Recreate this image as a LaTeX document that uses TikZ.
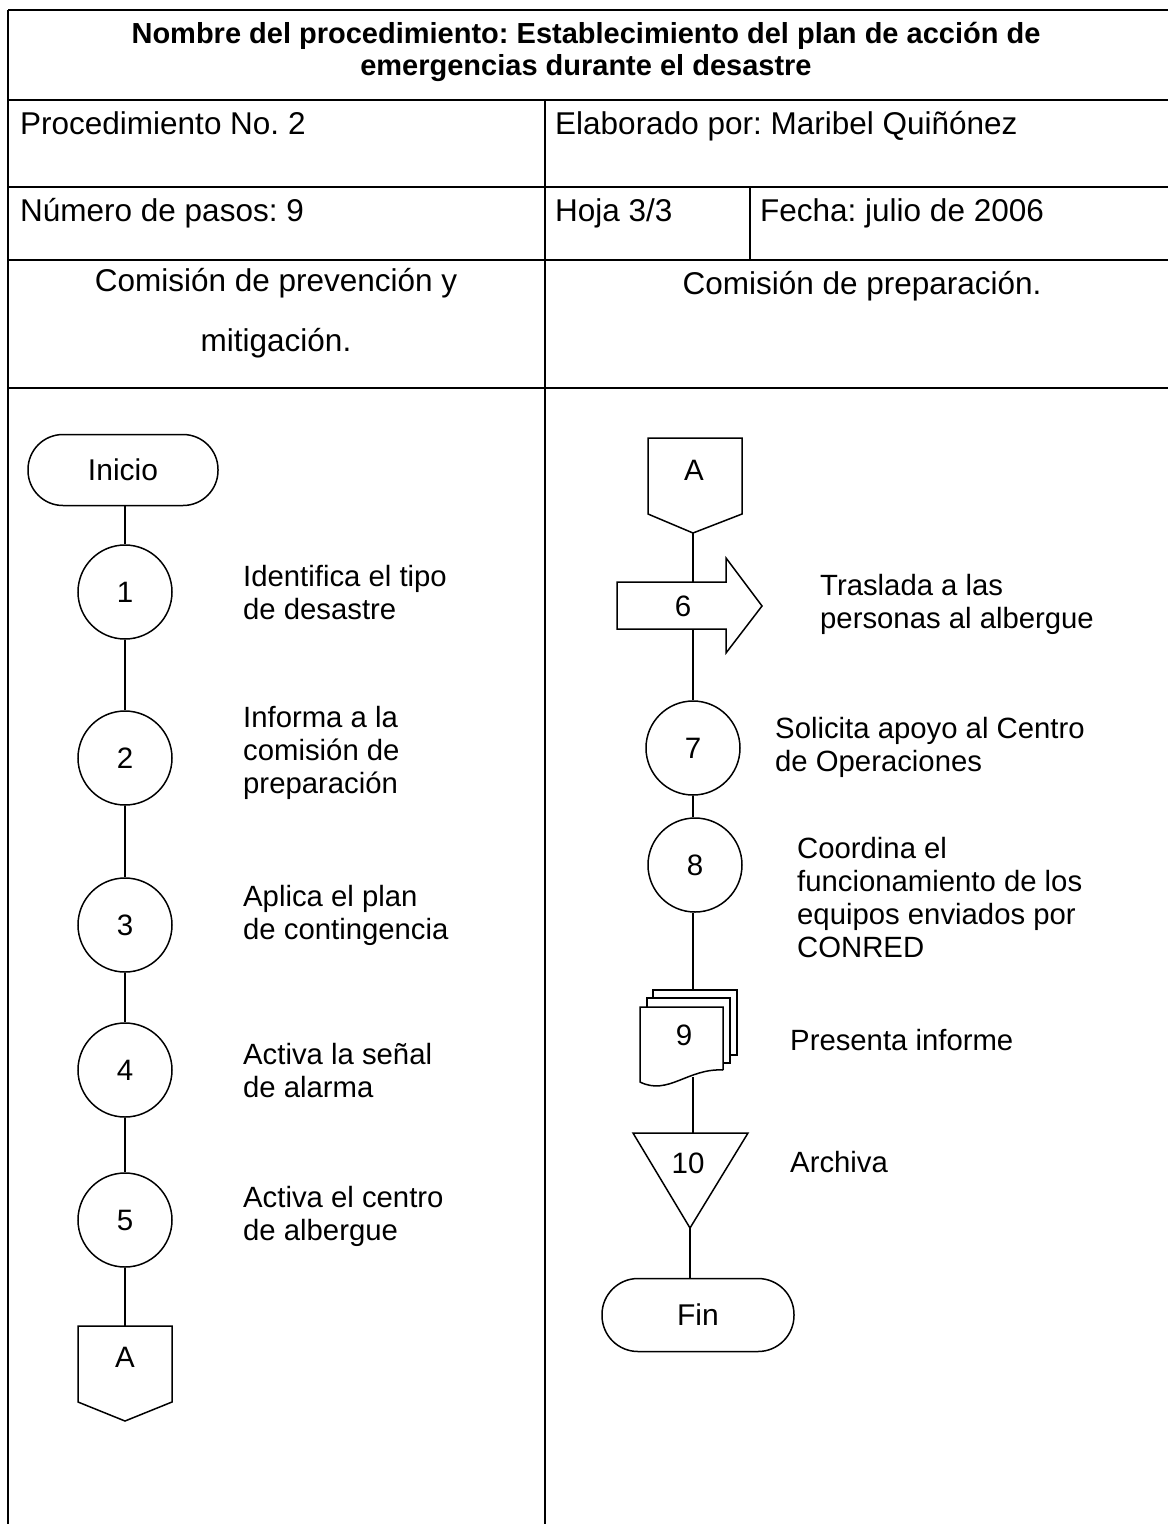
\documentclass[tikz,border=0pt]{standalone}
\usepackage{fontspec}
\setmainfont{Liberation Sans}
\usetikzlibrary{calc}
\frenchspacing
\begin{document}
\begin{tikzpicture}[x=1pt,y=-1pt,
  tbl/.style={line width=2pt},
  shp/.style={draw, line width=1.5pt, fill=white},
  conn/.style={line width=1.5pt},
  stepcircle/.style={circle, draw, line width=1.5pt, minimum size=94pt, inner sep=0pt, font=\fontsize{29.5}{33}\selectfont},
  term/.style={rectangle, rounded corners=35pt, draw, line width=1.5pt, minimum width=190pt, minimum height=71pt, font=\fontsize{30}{33}\selectfont},
  lbl/.style={anchor=west, align=left, font=\fontsize{29.3}{33}\selectfont, inner sep=0pt},
  hdr/.style={anchor=base west, font=\fontsize{31.5}{36}\selectfont, inner sep=0pt},
  num/.style={font=\fontsize{29.5}{33}\selectfont, inner sep=0pt}
]
\useasboundingbox (0,0) rectangle (1168,1524);

% ---------- table ----------
\foreach \yy in {10,100,187,260,388} \draw[tbl] (8,\yy) -- (1168,\yy);
\draw[tbl] (8,10) -- (8,1524);
\draw[tbl] (545,100) -- (545,1524);
\draw[tbl] (750,187) -- (750,260);

\node[align=center, font=\bfseries\fontsize{29}{32}\selectfont, inner sep=0pt] (title) at (586,52)
  {Nombre del procedimiento: Establecimiento del plan de acción de\\emergencias durante el desastre};
\node[hdr] (proc) at (20,134) {Procedimiento No. 2};
\node[hdr] (elab) at (555,134) {Elaborado por: Maribel Quiñónez};
\node[hdr] (pasos) at (20,221) {Número de pasos: 9};
\node[hdr] (hoja) at (555,221) {Hoja 3/3};
\node[hdr] (fecha) at (760,221) {Fecha: julio de 2006};
\node[align=center, font=\fontsize{31.5}{60}\selectfont, inner sep=0pt] (col1) at (276,313)
  {Comisión de prevención y\\mitigación.};
\node[anchor=base, font=\fontsize{31.5}{36}\selectfont, inner sep=0pt] (col2) at (862,294) {Comisión de preparación.};

% ---------- left flow ----------
\node[term] (ini) at (123,470) {Inicio};
\node[stepcircle] (c1) at (125,592) {1};
\node[stepcircle] (c2) at (125,758) {2};
\node[stepcircle] (c3) at (125,925) {3};
\node[stepcircle] (c4) at (125,1070) {4};
\node[stepcircle] (c5) at (125,1220) {5};
\node[num] (A1) at (125,1357) {A};
\draw[shp] ($(A1)+(-47,-31)$) -- ($(A1)+(47,-31)$) -- ($(A1)+(47,45)$) -- ($(A1)+(0,64)$) -- ($(A1)+(-47,45)$) -- cycle;
\node[num] at (A1) {A};
\coordinate (A1top) at ($(A1)+(0,-31)$);

\draw[conn] (c1.north |- ini.south) -- (c1.north);
\draw[conn] (c1.south) -- (c2.north);
\draw[conn] (c2.south) -- (c3.north);
\draw[conn] (c3.south) -- (c4.north);
\draw[conn] (c4.south) -- (c5.north);
\draw[conn] (c5.south) -- (A1top);

\node[lbl] (l1) at (243,593) {Identifica el tipo\\de desastre};
\node[lbl] (l2) at (243,753) {Informa a la\\comisión de\\preparación};
\node[lbl] (l3) at (243,915) {Aplica el plan\\de contingencia};
\node[lbl] (l4) at (243,1071) {Activa la señal\\de alarma};
\node[lbl] (l5) at (243,1216) {Activa el centro\\de albergue};

% ---------- right flow ----------
\node[num] (A2) at (694,470) {A};
\draw[shp] ($(A2)+(-46,-32)$) -- ($(A2)+(48,-32)$) -- ($(A2)+(48,44)$) -- ($(A2)+(-1,63)$) -- ($(A2)+(-46,44)$) -- cycle;
\node[num] at (A2) {A};
\coordinate (A2tip) at (693,533);

\draw[shp] (617,582) -- (726,582) -- (726,558) -- (762,606) -- (726,653) -- (726,629) -- (617,629) -- cycle;
\node[num] (s6) at (683,606) {6};
\coordinate (s6top) at (693,582);
\coordinate (s6bot) at (693,629);

\node[stepcircle] (c7) at (693,748) {7};
\node[stepcircle] (c8) at (695,865) {8};

% document stack 9
\draw[shp] (653,990) rectangle (737,1055);
\draw[shp] (647,998) rectangle (730,1063);
\draw[shp] (723,1070) -- (723,1007) -- (640,1007) -- (640,1082)
  .. controls (668,1096) and (688,1068) .. (723,1070);
\node[num] (d9) at (684,1035) {9};
\coordinate (d9top) at (693,990);
\coordinate (d9bot) at (693,1077);

% triangle 10
\draw[shp] (633,1133) -- (748,1133) -- (690,1228) -- cycle;
\node[num] (t10) at (688,1163) {10};
\coordinate (t10top) at (693,1133);
\coordinate (t10tip) at (690,1228);

\node[term, minimum width=192pt, minimum height=73pt, rounded corners=36pt] (fin) at (698,1315) {Fin};

\draw[conn] (A2tip) -- (s6top);
\draw[conn] (s6bot) -- (c7.north);
\draw[conn] (c7.south) -- (c7.south |- c8.north);
\draw[conn] (c8.south -| d9top) -- (d9top);
\draw[conn] (d9bot) -- (t10top);
\draw[conn] (t10tip) -- (t10tip |- fin.north);

\node[lbl] (l6) at (820,604) {Traslada a las\\personas al albergue};
\node[lbl] (l7) at (775,747) {Solicita apoyo al Centro\\de Operaciones};
\node[lbl] (l8) at (797,898) {Coordina el\\funcionamiento de los\\equipos enviados por\\CONRED};
\node[lbl] (l9) at (790,1040) {Presenta informe};
\node[lbl] (l10) at (790,1162) {Archiva};
\end{tikzpicture}
\end{document}
